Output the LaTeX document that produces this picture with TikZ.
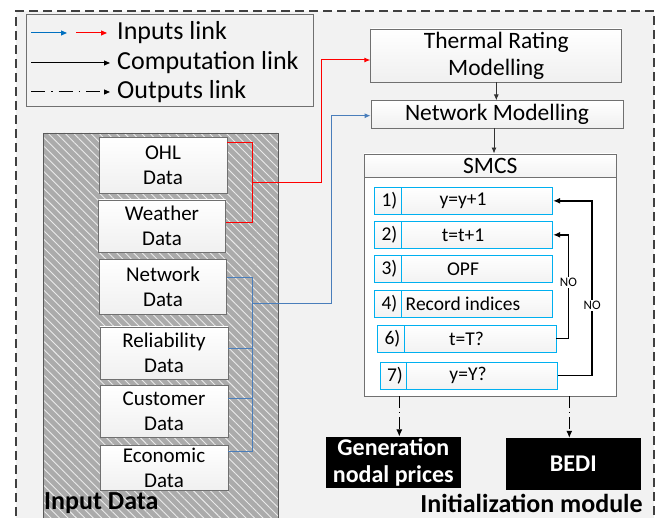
\documentclass[tikz,border=0pt]{standalone}
\usepackage{fontspec}
\setmainfont{Carlito}
\usetikzlibrary{arrows.meta,patterns.meta,calc}
\definecolor{bgc}{HTML}{F2F2F2}
\definecolor{bdc}{HTML}{707070}
\definecolor{cyanc}{HTML}{00B0F0}
\definecolor{linkblue}{HTML}{4A7EBB}
\definecolor{legblue}{HTML}{0070C0}
\definecolor{linkred}{HTML}{FF0000}
\definecolor{hatchc}{HTML}{ABABAB}
\tikzset{
  databox/.style={draw=bdc,line width=0.8pt,top color=white,bottom color=gray!12,align=center,inner sep=0pt,font=\fontsize{21}{25}\selectfont},
  modbox/.style={draw=bdc,line width=0.8pt,top color=white,bottom color=gray!12,align=center,inner sep=0pt,font=\fontsize{23.5}{27}\selectfont},
  numbox/.style={draw=cyanc,line width=0.9pt,top color=white,bottom color=gray!10,inner sep=0pt,font=\fontsize{19.5}{22}\selectfont},
  steptxt/.style={inner sep=0pt,font=\fontsize{19.5}{22}\selectfont},
  outbox/.style={fill=black,text=white,align=center,inner sep=0pt,font=\bfseries\fontsize{24}{27}\selectfont},
  redl/.style={linkred,line width=1pt},
  bluel/.style={linkblue,line width=1pt},
  compl/.style={black!80,line width=0.9pt,-{Latex[length=6pt,width=5pt]}},
  loopl/.style={black,line width=1.4pt,-{Latex[length=7pt,width=6pt]}},
  outl/.style={black,line width=1pt,dash pattern=on 12pt off 4pt on 1pt off 4pt,-{Latex[length=7pt,width=6pt]}},
  nolab/.style={fill=white,inner sep=1pt,font=\fontsize{13}{15}\selectfont},
  legtxt/.style={anchor=west,inner sep=0pt,font=\fontsize{26}{30}\selectfont},
}
\begin{document}
\begin{tikzpicture}[x=1pt,y=-1pt]
\useasboundingbox (0,0) rectangle (656,518);
% outer module
\fill[bgc] (16,11) rectangle (654,530);
\draw[black!75,line width=1.4pt,dash pattern=on 9pt off 5pt] (16,530) -- (16,11) -- (654,11) -- (654,530);
% legend
\draw[bdc,line width=0.9pt] (26,14) rectangle (313,106);
\coordinate (lb1) at (31,33); \coordinate (lb2) at (67,33);
\coordinate (lr1) at (76,33); \coordinate (lr2) at (107,33);
\coordinate (lc1) at (31,63); \coordinate (lc2) at (110,63);
\coordinate (lo1) at (31,92); \coordinate (lo2) at (110,92);
\draw[legblue,line width=1pt,-{Triangle[length=6pt,width=5pt]}] (lb1) -- (lb2);
\draw[linkred,line width=1pt,-{Triangle[length=6pt,width=5pt]}] (lr1) -- (lr2);
\draw[black,line width=1pt,-{Triangle[length=6pt,width=5pt]}] (lc1) -- (lc2);
\draw[black,line width=1pt,dash pattern=on 14pt off 6pt on 1.5pt off 6pt on 14pt off 6pt on 1.5pt off 6pt,-{Triangle[length=6pt,width=5pt]}] (lo1) -- (lo2);
\node[legtxt] (t1) at (117,33) {Inputs link};
\node[legtxt] (t2) at (117,63) {Computation link};
\node[legtxt] (t3) at (117,92) {Outputs link};
% input data region
\fill[hatchc] (43,133) rectangle (278,530);
\fill[pattern={Lines[angle=-45,distance=6pt,line width=0.9pt]},pattern color=white!75!hatchc] (43,133) rectangle (278,530);
\draw[bdc!80!black,line width=0.9pt] (43,530) -- (43,133) -- (278,133) -- (278,530);
\node[anchor=west,inner sep=0pt,font=\bfseries\fontsize{26}{29}\selectfont] (indata) at (44,503) {Input Data};
% data boxes
\node[databox,minimum width=128pt,minimum height=56pt] (ohl) at (163,165.5) {OHL\\Data};
\node[databox,minimum width=127pt,minimum height=52pt] (wea) at (162,226) {Weather\\Data};
\node[databox,minimum width=127pt,minimum height=55pt] (net) at (163,287) {Network\\Data};
\node[databox,minimum width=128pt,minimum height=52pt] (rel) at (164,353) {Reliability\\Data};
\node[databox,minimum width=128pt,minimum height=52pt] (cus) at (164,411.7) {Customer\\Data};
\node[databox,minimum width=128pt,minimum height=45pt] (eco) at (164,468.3) {Economic\\Data};
% modelling boxes
\node[modbox,minimum width=251pt,minimum height=53pt] (therm) at (496.3,55.5) {Thermal Rating\\Modelling};
\node[modbox,minimum width=252pt,minimum height=27.3pt] (netm) at (497,114.4) {Network Modelling};
% SMCS
\node[draw=bdc,line width=0.9pt,fill=white,minimum width=252.7pt,minimum height=242pt,inner sep=0pt] (smcs) at (490.3,275) {};
\node[draw=bdc,line width=0.9pt,top color=white,bottom color=gray!10,minimum width=252.7pt,minimum height=23pt,inner sep=0pt,font=\fontsize{23.5}{27}\selectfont] (smcsh) at (490.3,165.5) {SMCS};
% steps
\node[numbox,minimum width=27.7pt,minimum height=26.3pt] (n1) at (387.85,200.85) {\,1)};
\node[numbox,minimum width=151pt,minimum height=26.3pt] (s1) at (477.2,200.85) {};
\node[steptxt] (l1) at (463,200.85) {y=y+1};
\node[numbox,minimum width=27.7pt,minimum height=26.3pt] (n2) at (387.85,234.85) {\,2)};
\node[numbox,minimum width=151pt,minimum height=26.3pt] (s2) at (477.2,234.85) {};
\node[steptxt] (l2) at (463,234.85) {t=t+1};
\node[numbox,minimum width=27.7pt,minimum height=26.3pt] (n3) at (387.85,268.85) {\,3)};
\node[numbox,minimum width=151pt,minimum height=26.3pt] (s3) at (477.2,268.85) {};
\node[steptxt] (l3) at (463,268.85) {OPF};
\node[numbox,minimum width=27.7pt,minimum height=26.3pt] (n4) at (387.85,303.85) {\,4)};
\node[numbox,minimum width=151pt,minimum height=26.3pt] (s4) at (477.2,303.85) {};
\node[steptxt] (l4) at (463,303.85) {Record indices};
\node[numbox,minimum width=26.3pt,minimum height=27pt] (n6) at (390.85,338.5) {\,6)};
\node[numbox,minimum width=152pt,minimum height=27pt] (s6) at (480,338.5) {};
\node[steptxt] (l6) at (466.5,338.5) {t=T?};
\node[numbox,minimum width=26.7pt,minimum height=27pt] (n7) at (393.35,375.5) {\,7)};
\node[numbox,minimum width=151pt,minimum height=27pt] (s7) at (482.2,375.5) {};
\node[steptxt] (l7) at (468,375.5) {y=Y?};
% outputs
\node[outbox,minimum width=134.7pt,minimum height=51.3pt] (gen) at (393.3,462.3) {Generation\\nodal prices};
\node[outbox,minimum width=134.7pt,minimum height=52pt] (bedi) at (573.3,464) {BEDI};
\node[inner sep=0pt,font=\bfseries\fontsize{26}{29}\selectfont] (initm) at (531.5,503) {Initialization module};
% red input links
\coordinate (rj) at (252.5,182.7);
\draw[redl] ([yshift=-5pt]ohl.north east) -| (rj) |- ([yshift=3pt]wea.east);
\draw[redl,-{Latex[length=6pt,width=5pt]}] (rj) -| ([xshift=-48.5pt,yshift=-4.5pt]therm.west) -- ([yshift=-4.5pt]therm.west);
% blue input links
\coordinate (bj) at (252.7,304);
\draw[bluel] ([yshift=9pt]net.east) -| (bj) |- ([yshift=16.5pt]eco.east);
\draw[bluel] ([yshift=4.7pt]rel.east) -| (bj);
\draw[bluel] ([yshift=12.7pt]cus.east) -| (bj);
\draw[bluel,-{Latex[length=6pt,width=5pt]}] (bj) -| ([xshift=-38.7pt,yshift=-1.3pt]netm.west) -- ([yshift=-1.3pt]netm.west);
% computation links
\draw[compl] (therm.south) -- (therm.south |- netm.north);
\coordinate (smin) at ([xshift=-3pt]netm.south);
\draw[compl] (smin) -- (smin |- smcsh.north);
% loops
\draw[loopl] (s6.east) -| ([xshift=15.3pt]s2.east) node[nolab,pos=0.77] {NO} -- (s2.east);
\draw[loopl] (s7.east) -| ([xshift=39pt]s1.east) node[nolab,pos=0.70] {NO} -- (s1.east);
% output links
\coordinate (o1) at ([xshift=6pt]gen.north);
\coordinate (o2) at ([xshift=-4pt]bedi.north);
\draw[outl] (o1 |- smcs.south) -- (o1);
\draw[outl] (o2 |- smcs.south) -- (o2);
\end{tikzpicture}
\end{document}
